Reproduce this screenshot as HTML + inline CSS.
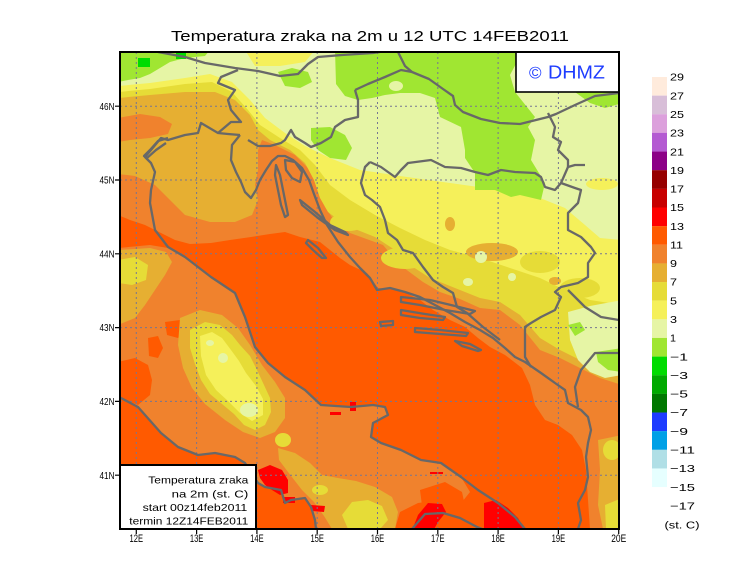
<!DOCTYPE html>
<html><head><meta charset="utf-8"><style>
html,body{margin:0;padding:0;background:#fff;}
svg{display:block;}
text{font-family:"Liberation Sans",sans-serif;fill:#000;}
</style></head><body>
<svg width="740" height="582" viewBox="0 0 740 582" xmlns="http://www.w3.org/2000/svg">
<defs><clipPath id="mc"><rect x="120" y="52" width="499" height="477"/></clipPath></defs>
<rect width="740" height="582" fill="#fff"/>
<text x="370" y="41" font-size="15" text-anchor="middle" textLength="398" lengthAdjust="spacingAndGlyphs">Temperatura zraka na 2m u 12 UTC 14FEB2011</text>
<g clip-path="url(#mc)">
<rect x="118" y="50" width="506" height="482" fill="#FF5A00"/>
<polygon fill="#F0822D" points="118,50 622,50 622,529 590,529 588,500 586,470 582,450 572,435 558,425 545,420 535,405 530,385 522,368 505,355 490,347 478,338 465,327 450,320 433,310 420,300 400,290 378,288 367,273 350,265 340,258 320,242 300,237 285,232 270,234 251,237 230,240 211,243 190,244 175,240 161,233 145,225 130,220 118,215"/>
<polygon fill="#E6AF32" points="118,50 622,50 622,385 600,378 580,368 560,358 540,350 520,325 500,310 480,308 460,299 440,292 423,282 400,265 383,245 350,233 335,222 325,207 318,190 310,170 295,155 275,145 262,140 258,150 258,170 255,185 258,200 252,215 235,222 210,222 185,215 170,200 155,185 135,176 118,174"/>
<polygon fill="#F0822D" points="118,118 140,114 160,117 172,124 168,134 150,138 130,140 118,142"/>
<polygon fill="#E6AF32" points="598,440 622,435 622,529 603,529 598,505 600,470"/>
<polygon fill="#E6DC37" points="118,50 622,50 622,375 600,368 580,360 560,350 540,338 520,315 500,302 480,298 455,288 430,278 410,265 395,250 375,237 345,225 328,212 320,198 314,180 305,163 290,150 270,140 258,130 250,115 235,100 215,92 185,92 150,95 118,98"/>
<ellipse cx="612" cy="450" rx="9" ry="10" fill="#E6DC37"/>
<polygon fill="#E6DC37" points="605,505 622,498 622,529 606,529"/>
<polygon fill="#F5F05A" points="118,50 622,50 622,305 590,300 565,290 540,278 510,268 480,258 450,250 425,240 400,228 375,215 350,200 330,185 315,165 300,150 280,138 260,125 248,110 232,92 212,82 185,84 150,89 118,92"/>
<ellipse cx="405" cy="258" rx="24" ry="11" fill="#E6DC37"/>
<ellipse cx="470" cy="278" rx="30" ry="10" fill="#E6DC37"/>
<ellipse cx="540" cy="262" rx="20" ry="11" fill="#E6DC37"/>
<ellipse cx="580" cy="288" rx="20" ry="10" fill="#E6DC37"/>
<ellipse cx="348" cy="222" rx="18" ry="9" fill="#E6DC37"/>
<ellipse cx="492" cy="252" rx="26" ry="9" fill="#E6AF32"/>
<ellipse cx="450" cy="224" rx="5" ry="7" fill="#E6AF32"/>
<ellipse cx="555" cy="281" rx="6" ry="4" fill="#E6AF32"/>
<ellipse cx="481" cy="257" rx="6" ry="6" fill="#E6F5A5"/>
<ellipse cx="468" cy="282" rx="5" ry="4" fill="#E6F5A5"/>
<ellipse cx="512" cy="277" rx="4" ry="4" fill="#E6F5A5"/>
<polygon fill="#E6F5A5" points="118,50 622,50 622,240 600,238 585,225 565,208 540,198 500,190 450,183 400,176 360,170 330,158 305,146 285,133 265,118 250,100 232,82 210,74 185,78 150,83 118,86"/>
<polygon fill="#F5F05A" points="245,50 315,50 305,62 280,66 255,66"/>
<ellipse cx="602" cy="184" rx="16" ry="6" fill="#F5F05A"/>
<polygon fill="#A0E632" points="118,50 210,50 205,56 185,58 170,62 160,68 150,74 140,78 128,80 118,82"/>
<rect x="138" y="58" width="12" height="9" fill="#00DC00"/>
<rect x="176" y="53" width="10" height="6" fill="#00DC00"/>
<polygon fill="#A0E632" points="278,72 292,68 308,72 312,82 300,88 285,86"/>
<polygon fill="#A0E632" points="335,50 520,50 518,60 510,75 515,92 535,117 528,127 535,140 531,160 545,183 541,200 520,195 511,197 495,190 475,190 475,173 465,158 465,150 461,127 440,117 435,98 420,93 400,93 385,95 372,98 358,100 345,96 336,84"/>
<ellipse cx="396" cy="86" rx="7" ry="5" fill="#E6F5A5"/>
<polygon fill="#A0E632" points="575,92 619,92 619,104 605,108 590,103"/>
<polygon fill="#A0E632" points="311,128 330,127 345,135 352,148 346,160 330,158 318,150 311,140"/>
<polygon fill="#E6F5A5" points="568,312 590,306 622,300 622,375 605,378 590,372 578,360 570,340"/>
<polygon fill="#A0E632" points="568,325 580,322 585,330 575,336"/>
<polygon fill="#A0E632" points="596,352 622,348 622,372 608,370 598,362"/>
<polygon fill="#F0822D" points="118,248 150,245 168,248 185,257 211,277 235,293 245,317 255,347 268,363 285,377 305,390 321,405 351,407 373,405 385,407 388,415 373,423 371,437 381,443 401,450 421,460 441,463 461,477 470,492 462,502 440,500 418,503 400,512 395,529 316,529 315,520 311,507 305,498 291,500 285,503 281,490 265,487 258,483 245,463 235,457 215,453 198,455 178,447 161,433 138,407 121,398 118,397"/>
<polygon fill="#FF5A00" points="118,362 135,358 148,365 152,380 150,395 138,405 121,398 118,398"/>
<polygon fill="#FF5A00" points="148,338 158,336 163,348 158,358 149,356"/>
<polygon fill="#FF5A00" points="165,322 180,320 186,330 178,338 167,335"/>
<polygon fill="#E6AF32" points="118,250 150,248 166,252 172,262 165,275 155,290 145,305 135,318 118,325"/>
<polygon fill="#E6DC37" points="118,260 135,257 148,265 146,280 132,285 118,283"/>
<polygon fill="#E6AF32" points="180,318 200,310 222,315 238,328 250,345 262,365 275,382 285,398 285,418 275,432 260,438 243,432 225,420 205,404 192,388 183,368 178,345"/>
<polygon fill="#E6DC37" points="190,330 205,322 220,325 232,335 240,345 250,356 257,370 264,385 270,398 271,412 265,425 255,430 244,425 234,414 222,404 210,394 201,380 195,364 190,348"/>
<polygon fill="#F5F05A" points="200,336 212,332 222,338 231,350 239,361 246,373 256,386 263,399 263,415 252,421 240,413 228,401 216,390 206,375 201,356"/>
<ellipse cx="249" cy="410" rx="9" ry="7" fill="#E6F5A5"/>
<ellipse cx="223" cy="358" rx="5" ry="5" fill="#E6F5A5"/>
<ellipse cx="210" cy="343" rx="4" ry="3" fill="#E6F5A5"/>
<polygon fill="#E6AF32" points="278,448 295,453 310,463 322,475 338,478 356,481 375,487 392,497 398,512 395,529 332,529 324,516 314,502 302,490 288,472 279,460"/>
<ellipse cx="283" cy="440" rx="8" ry="7" fill="#E6DC37"/>
<polygon fill="#E6DC37" points="342,515 352,502 368,500 382,506 388,520 380,529 348,529"/>
<ellipse cx="320" cy="490" rx="8" ry="5" fill="#E6DC37"/>
<polygon fill="#FF5A00" points="420,490 445,482 462,492 470,529 425,529"/>
<g fill="#FF0000">
<polygon points="258,470 270,465 282,470 288,480 288,493 280,495 272,490 265,485 260,478"/>
<rect x="283" y="497" width="12" height="6"/>
<polygon points="311,505 325,506 324,512 312,511"/>
<rect x="330" y="412" width="11" height="3"/>
<rect x="350" y="402" width="6" height="9"/>
<rect x="430" y="472" width="13" height="2"/>
<polygon points="411,533 418,515 428,503 442,504 446,512 438,522 432,533"/>
<polygon points="484,533 484,503 496,500 508,508 518,518 527,533"/>
</g>
</g>
<g stroke="#767692" stroke-width="1" stroke-dasharray="2,3" fill="none">
<path d="M136.3,52V529M196.6,52V529M256.9,52V529M317.2,52V529M377.5,52V529M437.8,52V529M498.1,52V529M558.4,52V529"/>
<path d="M120,106.2H619M120,180H619M120,253.8H619M120,327.6H619M120,401.4H619M120,475.2H619"/>
</g>
<g clip-path="url(#mc)" stroke="#686868" stroke-width="2.3" fill="none" stroke-linejoin="round">
<path d="M158,52 L185,57 L205,63 L235,68 L258,71 L280,76 L298,74 L308,64 L318,57 L342,55 L373,53 L380,52"/>
<path d="M398,52 L405,66 L412,72 L429,79 L443,89 L453,96 L455,105 L463,112 L481,119 L500,123 L520,124 L536,120 L548,117 L556,114 L575,105 L595,96 L619,93"/>
<path d="M355,90 L368,84 L385,77 L401,70 L412,72"/>
<path d="M355,90 L358,100 L358,117 L345,120 L335,127 L331,137 L321,143 L311,147 L305,143 L295,137 L291,130 L285,140 L281,143 L270,146 L258,146 L248,140"/>
<path d="M238,70 L221,77 L218,83 L235,90 L228,100 L231,110 L241,122 L231,122 L218,133"/>
<path d="M240,135 L228,134 L218,133 L201,123 L198,133 L185,135 L168,140 L161,138 L151,150 L145,157 L151,163 L155,172 L151,190 L150,203 L155,230 L168,247 L185,257 L211,277 L235,293 L245,317 L255,347 L268,363 L285,377 L305,390 L321,405 L351,407 L373,405 L385,407 L388,415 L373,423 L371,437 L381,443 L401,450 L421,460 L441,463 L461,477 L478,490 L498,503 L515,517 L525,529"/>
<path d="M168,138 L158,141 L150,150 L144,156 L147,158 L156,150 L166,143"/>
<path d="M240,135 L232,145 L231,160 L236,172 L241,182 L245,192 L251,198 L256,190 L260,180 L266,170 L272,161 L278,156 L285,156 L293,160 L302,168 L309,180 L314,194 L320,210 L327,225 L338,242 L350,257 L360,268 L370,278 L377,290 L390,288 L405,292 L420,297 L435,305 L450,313 L465,322 L480,330 L493,338 L505,348 L515,357 L525,362 L541,373 L555,383 L565,390 L568,403 L581,410 L588,417 L591,430 L588,443 L586,457 L588,477 L585,490 L578,503 L581,520 L578,529"/>
<path d="M276,165 L280,175 L283,190 L286,205 L288,215 L285,217 L281,205 L278,190 L275,175 Z"/>
<path d="M285,160 L295,162 L302,172 L300,182 L292,178 L286,170 Z"/>
<path d="M300,200 L315,212 L330,225 L345,232 L348,235 L335,230 L318,218 L302,205 Z"/>
<path d="M308,240 L318,248 L326,258 L322,258 L313,250 L306,243 Z"/>
<path d="M401,297 L430,300 L455,306 L475,311 L470,314 L445,310 L420,305 L401,302 Z"/>
<path d="M401,310 L425,314 L445,317 L443,320 L420,318 L401,315 Z"/>
<path d="M415,328 L440,330 L468,333 L466,336 L440,334 L415,332 Z"/>
<path d="M455,341 L470,344 L481,350 L478,351 L462,346 Z"/>
<path d="M380,322 L393,321 L393,325 L381,326 Z"/>
<path d="M370,162 L365,167 L361,183 L365,195 L372,200 L380,207 L385,220 L388,233 L397,240 L403,250 L413,253 L423,267 L433,280 L443,287 L453,293 L457,307 L467,313 L483,327 L500,340"/>
<path d="M370,162 L381,167 L395,177 L401,170 L408,163 L431,160 L445,167 L461,168 L475,172 L488,175 L501,170 L515,172 L535,173 L541,177 L545,187 L555,190 L561,183 L568,167 L575,165 L585,165"/>
<path d="M548,113 L555,127 L553,137 L561,142 L558,150 L568,160 L568,167"/>
<path d="M561,183 L575,188 L581,190 L578,203 L568,213 L568,230 L581,237 L591,247 L595,253 L588,263 L588,277 L578,283 L561,287 L555,292 L561,297 L555,310 L541,317 L531,323 L525,327 L525,357 L531,367"/>
<path d="M568,290 L585,307 L601,317 L619,320"/>
<path d="M619,353 L595,353 L581,370 L575,387 L578,407"/>
<path d="M119,397 L138,407 L161,433 L178,447 L198,455 L215,453 L235,457 L245,463 L258,483 L265,487 L281,490 L285,503 L291,500 L305,498 L311,507 L315,520 L316,529"/>
<path d="M412,529 L425,514 L443,513 L460,518 L477,527 L482,529"/>
</g>
<rect x="516" y="52" width="103" height="40" fill="#fff" stroke="#000" stroke-width="1.6"/>
<text y="78.5" style="fill:#1E3CFF"><tspan x="529" font-size="17">©</tspan><tspan x="548" font-size="18.3" textLength="57" lengthAdjust="spacingAndGlyphs">DHMZ</tspan></text>
<rect x="120" y="465" width="136" height="64" fill="#fff" stroke="#000" stroke-width="2"/>
<g font-size="10.5" text-anchor="end">
<text x="248.3" y="483.3" textLength="100" lengthAdjust="spacingAndGlyphs">Temperatura zraka</text>
<text x="248.3" y="497.3" textLength="76.7" lengthAdjust="spacingAndGlyphs">na 2m (st. C)</text>
<text x="247.3" y="511" textLength="104.7" lengthAdjust="spacingAndGlyphs">start 00z14feb2011</text>
<text x="248.3" y="524.3" textLength="119" lengthAdjust="spacingAndGlyphs">termin 12Z14FEB2011</text>
</g>
<rect x="120" y="52" width="499" height="477" fill="none" stroke="#000" stroke-width="2"/>
<g stroke="#000" stroke-width="1.2">
<path d="M115,106.2H120M115,180H120M115,253.8H120M115,327.6H120M115,401.4H120M115,475.2H120"/>
<path d="M136.3,529V534M196.6,529V534M256.9,529V534M317.2,529V534M377.5,529V534M437.8,529V534M498.1,529V534M558.4,529V534M618.7,529V534"/>
</g>
<g font-size="10.5" text-anchor="end">
<text x="114.5" y="109.8" textLength="15" lengthAdjust="spacingAndGlyphs">46N</text>
<text x="114.5" y="183.6" textLength="15" lengthAdjust="spacingAndGlyphs">45N</text>
<text x="114.5" y="257.4" textLength="15" lengthAdjust="spacingAndGlyphs">44N</text>
<text x="114.5" y="331.2" textLength="15" lengthAdjust="spacingAndGlyphs">43N</text>
<text x="114.5" y="405" textLength="15" lengthAdjust="spacingAndGlyphs">42N</text>
<text x="114.5" y="478.8" textLength="15" lengthAdjust="spacingAndGlyphs">41N</text>
</g>
<g font-size="11" text-anchor="middle">
<text x="136.3" y="542" textLength="13.5" lengthAdjust="spacingAndGlyphs">12E</text>
<text x="196.6" y="542" textLength="13.5" lengthAdjust="spacingAndGlyphs">13E</text>
<text x="256.9" y="542" textLength="13.5" lengthAdjust="spacingAndGlyphs">14E</text>
<text x="317.2" y="542" textLength="13.5" lengthAdjust="spacingAndGlyphs">15E</text>
<text x="377.5" y="542" textLength="13.5" lengthAdjust="spacingAndGlyphs">16E</text>
<text x="437.8" y="542" textLength="13.5" lengthAdjust="spacingAndGlyphs">17E</text>
<text x="498.1" y="542" textLength="13.5" lengthAdjust="spacingAndGlyphs">18E</text>
<text x="558.4" y="542" textLength="13.5" lengthAdjust="spacingAndGlyphs">19E</text>
<text x="618.7" y="542" textLength="15" lengthAdjust="spacingAndGlyphs">20E</text>
</g>
<g>
<rect x="652" y="77.00" width="15" height="18.7" fill="#FFEBDC"/>
<rect x="652" y="95.64" width="15" height="18.7" fill="#D8BED8"/>
<rect x="652" y="114.28" width="15" height="18.7" fill="#DCA0DC"/>
<rect x="652" y="132.92" width="15" height="18.7" fill="#B45AD2"/>
<rect x="652" y="151.56" width="15" height="18.7" fill="#8C0087"/>
<rect x="652" y="170.20" width="15" height="18.7" fill="#960000"/>
<rect x="652" y="188.84" width="15" height="18.7" fill="#C80000"/>
<rect x="652" y="207.48" width="15" height="18.7" fill="#FF0000"/>
<rect x="652" y="226.12" width="15" height="18.7" fill="#FF5A00"/>
<rect x="652" y="244.76" width="15" height="18.7" fill="#F0822D"/>
<rect x="652" y="263.40" width="15" height="18.7" fill="#E6AF32"/>
<rect x="652" y="282.04" width="15" height="18.7" fill="#E6DC37"/>
<rect x="652" y="300.68" width="15" height="18.7" fill="#F5F05A"/>
<rect x="652" y="319.32" width="15" height="18.7" fill="#E6F5A5"/>
<rect x="652" y="337.96" width="15" height="18.7" fill="#A0E632"/>
<rect x="652" y="356.60" width="15" height="18.7" fill="#00DC00"/>
<rect x="652" y="375.24" width="15" height="18.7" fill="#00AA00"/>
<rect x="652" y="393.88" width="15" height="18.7" fill="#007800"/>
<rect x="652" y="412.52" width="15" height="18.7" fill="#1E3CFF"/>
<rect x="652" y="431.16" width="15" height="18.7" fill="#00A0E6"/>
<rect x="652" y="449.80" width="15" height="18.7" fill="#B0DFE6"/>
<rect x="652" y="468.44" width="15" height="18.6" fill="#E6FFFF"/>
</g>
<g font-size="10.5">
<text x="670" y="80.7" textLength="14" lengthAdjust="spacingAndGlyphs">29</text>
<text x="670" y="99.3" textLength="14" lengthAdjust="spacingAndGlyphs">27</text>
<text x="670" y="118.0" textLength="14" lengthAdjust="spacingAndGlyphs">25</text>
<text x="670" y="136.6" textLength="14" lengthAdjust="spacingAndGlyphs">23</text>
<text x="670" y="155.3" textLength="14" lengthAdjust="spacingAndGlyphs">21</text>
<text x="670" y="173.9" textLength="14" lengthAdjust="spacingAndGlyphs">19</text>
<text x="670" y="192.5" textLength="14" lengthAdjust="spacingAndGlyphs">17</text>
<text x="670" y="211.2" textLength="14" lengthAdjust="spacingAndGlyphs">15</text>
<text x="670" y="229.8" textLength="14" lengthAdjust="spacingAndGlyphs">13</text>
<text x="670" y="248.5" textLength="13" lengthAdjust="spacingAndGlyphs">11</text>
<text x="670" y="267.1" textLength="7" lengthAdjust="spacingAndGlyphs">9</text>
<text x="670" y="285.7" textLength="7" lengthAdjust="spacingAndGlyphs">7</text>
<text x="670" y="304.4" textLength="7" lengthAdjust="spacingAndGlyphs">5</text>
<text x="670" y="323.0" textLength="7" lengthAdjust="spacingAndGlyphs">3</text>
<text x="670" y="341.7" textLength="6" lengthAdjust="spacingAndGlyphs">1</text>
<text x="670" y="360.3" textLength="18" lengthAdjust="spacingAndGlyphs">−1</text>
<text x="670" y="378.9" textLength="18" lengthAdjust="spacingAndGlyphs">−3</text>
<text x="670" y="397.6" textLength="18" lengthAdjust="spacingAndGlyphs">−5</text>
<text x="670" y="416.2" textLength="18" lengthAdjust="spacingAndGlyphs">−7</text>
<text x="670" y="434.9" textLength="18" lengthAdjust="spacingAndGlyphs">−9</text>
<text x="670" y="453.5" textLength="25" lengthAdjust="spacingAndGlyphs">−11</text>
<text x="670" y="472.1" textLength="25" lengthAdjust="spacingAndGlyphs">−13</text>
<text x="670" y="490.8" textLength="25" lengthAdjust="spacingAndGlyphs">−15</text>
<text x="670" y="509.4" textLength="25" lengthAdjust="spacingAndGlyphs">−17</text>
<text x="664.5" y="528.5" textLength="35" lengthAdjust="spacingAndGlyphs">(st. C)</text>
</g>
</svg>
</body></html>
